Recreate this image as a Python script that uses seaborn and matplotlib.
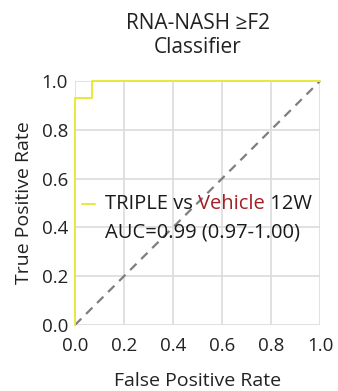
import pandas as pd
import matplotlib
matplotlib.use("Agg")
import matplotlib.pyplot as plt
import seaborn as sns

sns.set_theme(style="whitegrid")
plt.rcParams["font.family"] = ["Open Sans", "DejaVu Sans"]

# ROC curve points
fpr = [0.0, 0.0, 0.07, 0.07, 1.0]
tpr = [0.0, 0.93, 0.93, 1.0, 1.0]
chance = [0.0, 1.0]
ticks = [0.0, 0.2, 0.4, 0.6, 0.8, 1.0]

roc = pd.DataFrame({"fpr": fpr, "tpr": tpr})

fig = plt.figure(figsize=(3.38, 3.91), dpi=100)
ax = fig.add_axes([0.222, 0.169, 0.725, 0.624])

sns.lineplot(x=chance, y=chance, ax=ax, color="#7f7f7f", linestyle=(0, (4, 3)),
             linewidth=1.6, sort=False, estimator=None)
sns.lineplot(data=roc, x="fpr", y="tpr", ax=ax, color="#e8e83c", linewidth=1.4,
             sort=False, estimator=None)
for ln in ax.get_lines():
    ln.set_clip_on(False)

ax.set_xlim(0, 1)
ax.set_ylim(0, 1)
ax.set_xticks(ticks)
ax.set_yticks(ticks)
ax.set_xticklabels([f"{t:.1f}" for t in ticks], fontsize=13.5, color="#222222")
ax.set_yticklabels([f"{t:.1f}" for t in ticks], fontsize=13.5, color="#222222")
ax.grid(True, color="#dcdcdc", linewidth=1.2)
ax.tick_params(axis="y", length=0, pad=5)
ax.tick_params(axis="x", length=0, pad=9)
for s in ax.spines.values():
    s.set_visible(False)
ax.set_xlabel("False Positive Rate", fontsize=14, color="#222222", labelpad=12)
ax.set_ylabel("True Positive Rate", fontsize=14, color="#222222", labelpad=6)
ax.set_title("RNA-NASH \u2265F2\nClassifier", fontsize=15, color="#222222",
             pad=20, linespacing=1.2)

# legend: line sample + multicolour label
ax.plot([0.028, 0.08], [0.496, 0.496], color="#e8e83c", linewidth=1.4,
        transform=ax.transAxes, clip_on=False)
fig.canvas.draw()
r = fig.canvas.get_renderer()
x = 0.122
for part, col in [("TRIPLE vs ", "#1a1a1a"), ("Vehicle", "#a31f24"), (" 12W", "#1a1a1a")]:
    t = ax.text(x, 0.494, part, color=col, fontsize=14.5, va="center", ha="left",
                transform=ax.transAxes)
    bb = t.get_window_extent(renderer=r)
    x += bb.width / ax.get_window_extent(renderer=r).width
ax.text(0.122, 0.379, "AUC=0.99 (0.97-1.00)", color="#1a1a1a", fontsize=14.5,
        va="center", ha="left", transform=ax.transAxes)

fig.savefig("out.png", dpi=100)
